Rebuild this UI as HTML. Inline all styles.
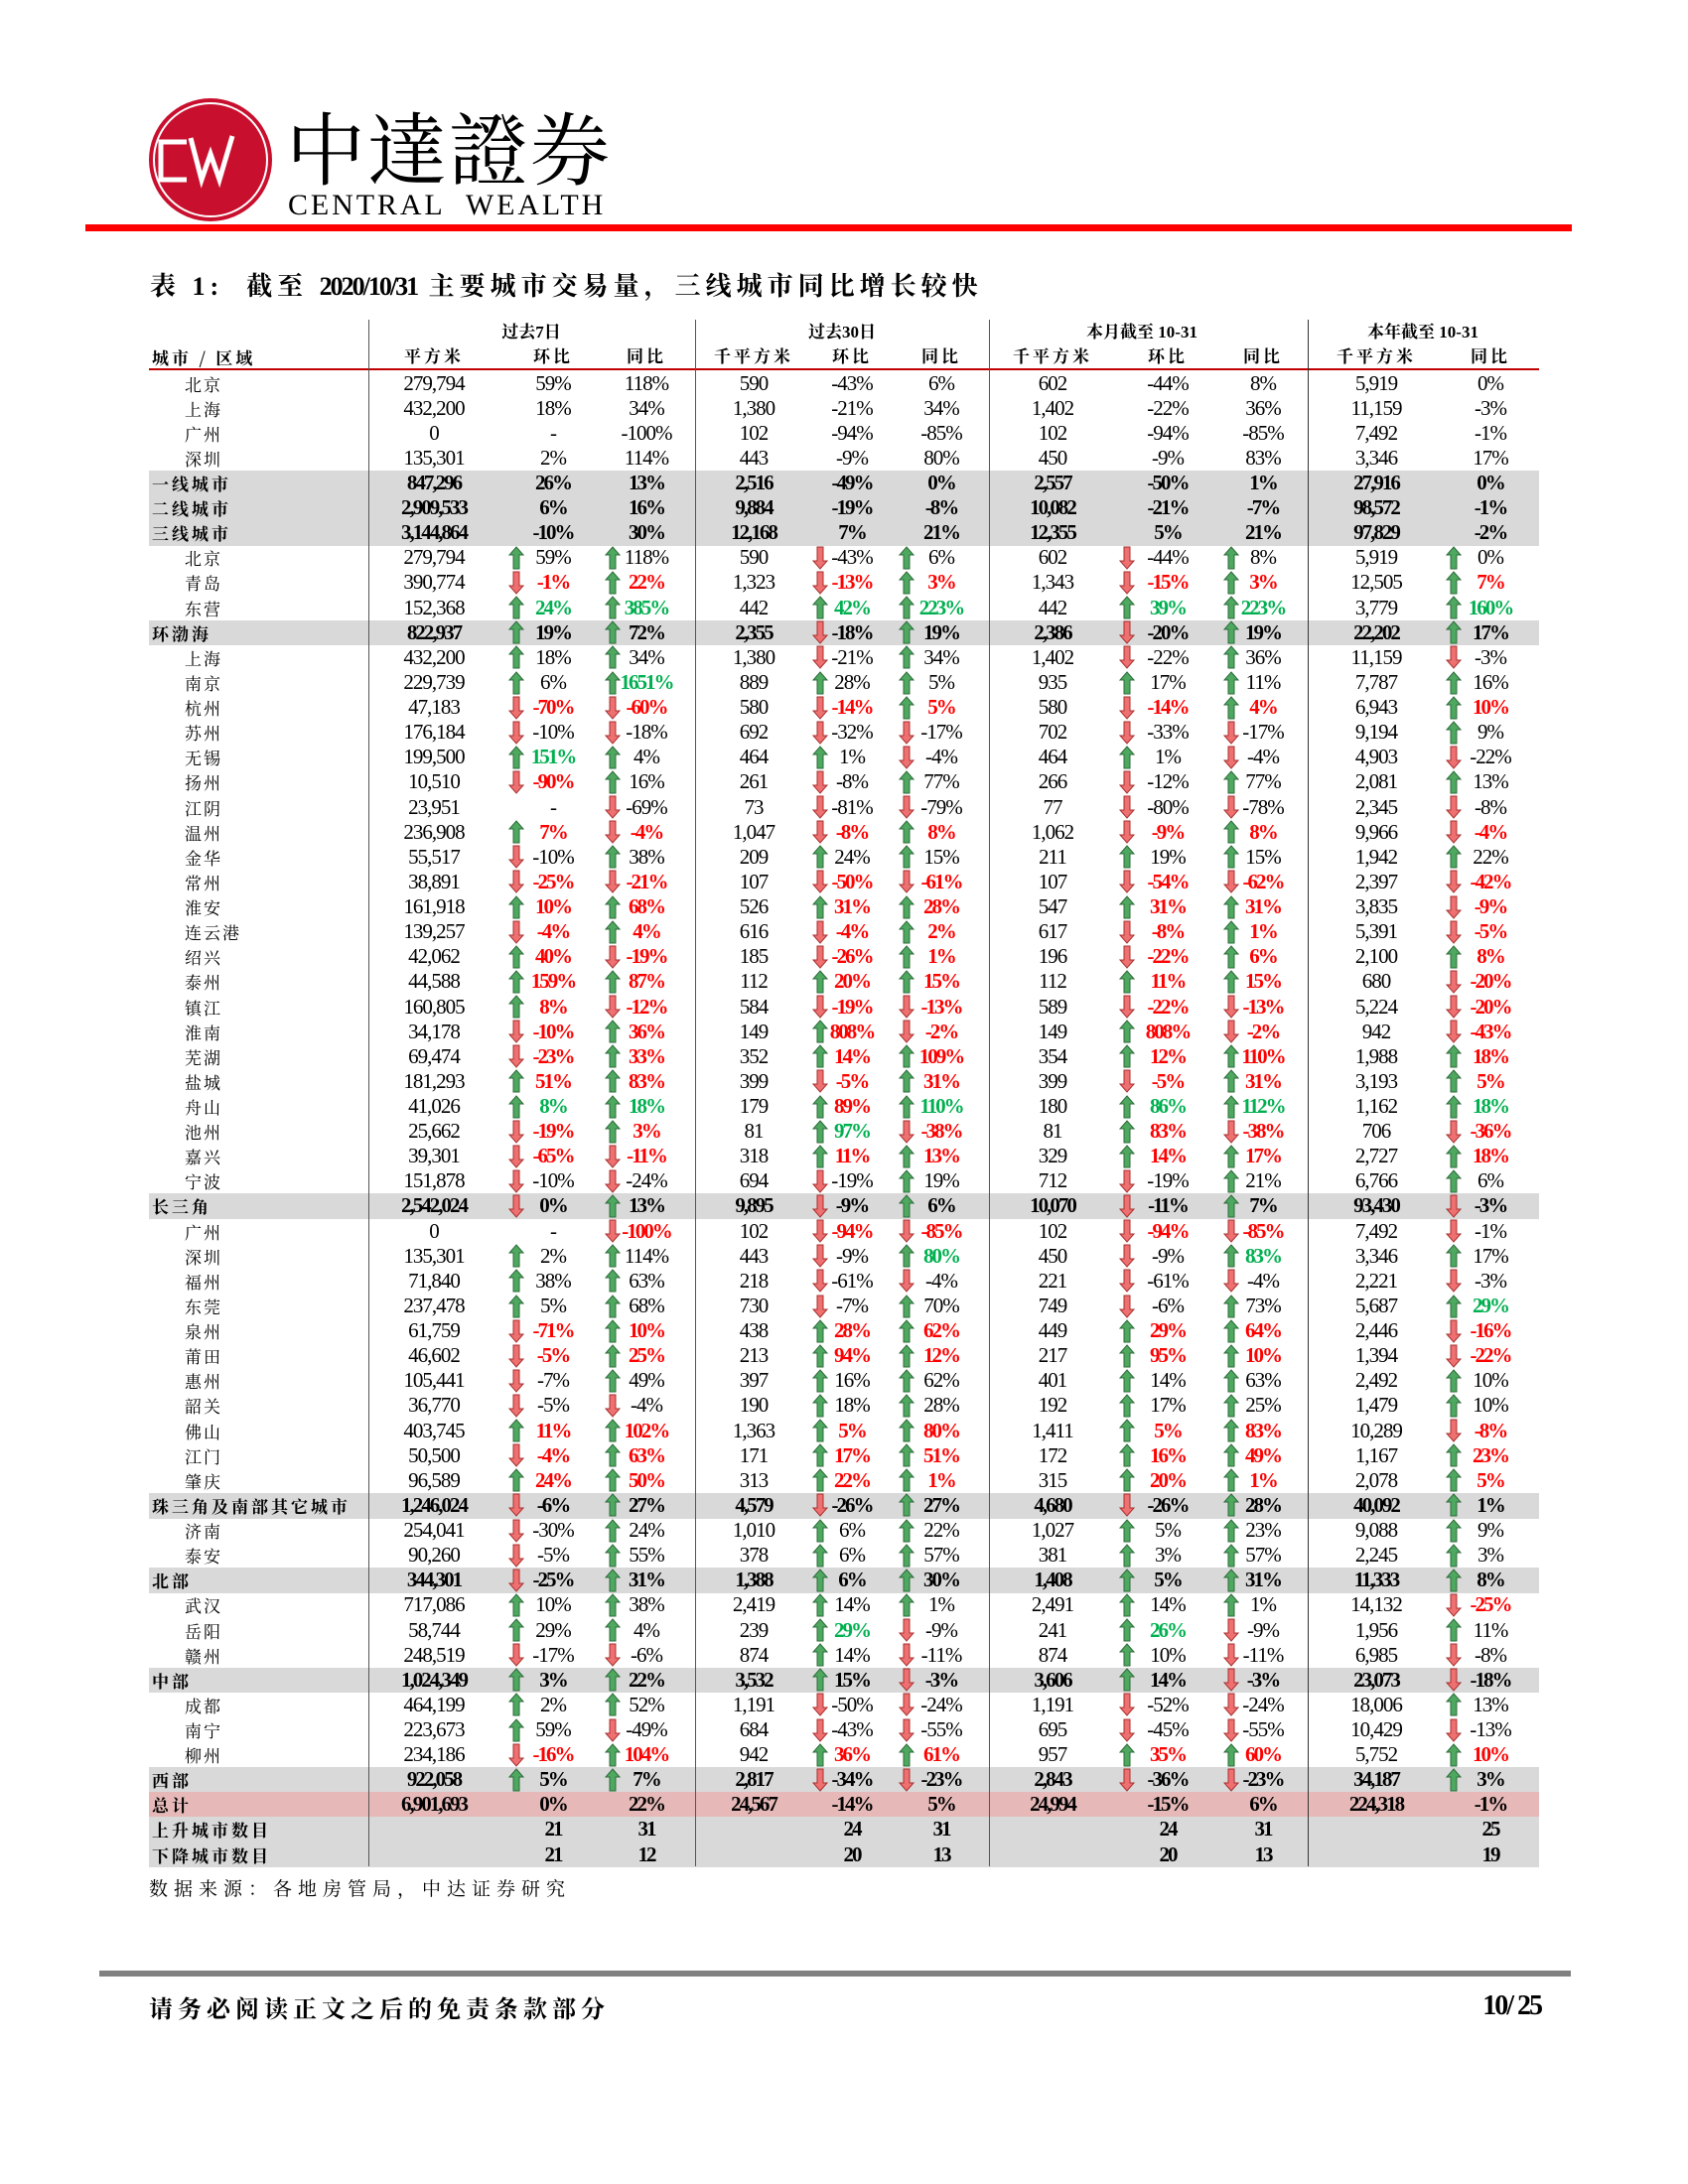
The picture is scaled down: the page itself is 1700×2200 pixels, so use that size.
<!DOCTYPE html>
<html><head><meta charset="utf-8">
<style>
html,body{margin:0;padding:0;background:#fff;}
#page{position:relative;width:1700px;height:2200px;overflow:hidden;background:#fff;font-family:"Liberation Serif","Noto Serif CJK SC",serif;color:#000;}
.abs{position:absolute;white-space:nowrap;}
.num{font-family:"Liberation Serif","Noto Serif CJK SC",serif;font-size:21px;letter-spacing:-1px;line-height:25px;transform:translateX(-50%);}
.b{font-weight:bold;letter-spacing:-2px;}
.lbl{font-family:"Noto Serif CJK SC","Liberation Serif",serif;font-size:17px;line-height:25px;letter-spacing:1px;}
.hd{font-family:"Liberation Serif","Noto Serif CJK SC",serif;font-weight:bold;font-size:17px;line-height:24px;transform:translateX(-50%);}
</style></head>
<body>
<div id="page">
  <svg class="abs" style="left:148px;top:97px" width="130" height="130">
    <circle cx="64" cy="64" r="62" fill="#c8102e"/>
    <circle cx="64" cy="64" r="57" fill="none" stroke="#fff" stroke-width="2"/>
    <path d="M40 46 H14 V84 H40" fill="none" stroke="#fff" stroke-width="5"/>
    <path d="M44 42 L55 84 L64 58 L73 84 L86 40" fill="none" stroke="#fff" stroke-width="5"/>
  </svg>
  <div class="abs" style="left:288px;top:96px;font-family:'Noto Serif CJK SC',serif;font-size:80px;line-height:100px;letter-spacing:2px">中達證券</div>
  <div class="abs" style="left:290px;top:190px;font-family:'Liberation Serif',serif;font-size:30px;line-height:34px;letter-spacing:2.9px">CENTRAL&nbsp; WEALTH</div>
  <div class="abs" style="left:86px;top:226px;width:1497px;height:7px;background:#f00"></div>

  <div class="abs" style="left:151px;top:272px;font-family:'Liberation Serif','Noto Serif CJK SC',serif;font-weight:bold;font-size:26px;line-height:34px;letter-spacing:5px">表 1:&nbsp; 截至 <span style="letter-spacing:-2px">2020/10/31</span> 主要城市交易量，三线城市同比增长较快</div>

  <div id="tbl"></div>

  <div class="abs" style="left:150px;top:1888px;font-family:'Noto Serif CJK SC',serif;font-size:19px;line-height:28px;letter-spacing:6px">数据来源：各地房管局，中达证券研究</div>
  <div class="abs" style="left:100px;top:1985px;width:1482px;height:6px;background:#808080"></div>
  <div class="abs" style="left:150px;top:2006px;font-family:'Noto Serif CJK SC',serif;font-weight:bold;font-size:24px;line-height:32px;letter-spacing:5px">请务必阅读正文之后的免责条款部分</div>
  <div class="abs" style="left:1460px;top:2004px;width:92px;text-align:right;font-family:'Liberation Serif',serif;font-weight:bold;font-size:28px;line-height:34px;letter-spacing:-2px">10/ 25</div>
</div>
<script>
// Table data: [label, rowType, 7d-volume, 7d-mom, 7d-yoy, 30d-volume, 30d-mom, 30d-yoy, mtd-volume, mtd-mom, mtd-yoy, ytd-volume, ytd-yoy]
// prefix r = red bold, g = green bold, D = forced down arrow
const tableRows = [
 ["北京","p","279,794","59%","118%","590","-43%","6%","602","-44%","8%","5,919","0%"],
 ["上海","p","432,200","18%","34%","1,380","-21%","34%","1,402","-22%","36%","11,159","-3%"],
 ["广州","p","0","-","-100%","102","-94%","-85%","102","-94%","-85%","7,492","-1%"],
 ["深圳","p","135,301","2%","114%","443","-9%","80%","450","-9%","83%","3,346","17%"],
 ["一线城市","ps","847,296","26%","13%","2,516","-49%","0%","2,557","-50%","1%","27,916","0%"],
 ["二线城市","ps","2,909,533","6%","16%","9,884","-19%","-8%","10,082","-21%","-7%","98,572","-1%"],
 ["三线城市","ps","3,144,864","-10%","30%","12,168","7%","21%","12,355","5%","21%","97,829","-2%"],
 ["北京","c","279,794","59%","118%","590","-43%","6%","602","-44%","8%","5,919","0%"],
 ["青岛","c","390,774","r-1%","r22%","1,323","r-13%","r3%","1,343","r-15%","r3%","12,505","r7%"],
 ["东营","c","152,368","g24%","g385%","442","g42%","g223%","442","g39%","g223%","3,779","g160%"],
 ["环渤海","s","822,937","19%","72%","2,355","-18%","19%","2,386","-20%","19%","22,202","17%"],
 ["上海","c","432,200","18%","34%","1,380","-21%","34%","1,402","-22%","36%","11,159","-3%"],
 ["南京","c","229,739","6%","g1651%","889","28%","5%","935","17%","11%","7,787","16%"],
 ["杭州","c","47,183","r-70%","r-60%","580","r-14%","r5%","580","r-14%","r4%","6,943","r10%"],
 ["苏州","c","176,184","-10%","-18%","692","-32%","-17%","702","-33%","-17%","9,194","9%"],
 ["无锡","c","199,500","g151%","4%","464","1%","-4%","464","1%","-4%","4,903","-22%"],
 ["扬州","c","10,510","r-90%","16%","261","-8%","77%","266","-12%","77%","2,081","13%"],
 ["江阴","c","23,951","-","-69%","73","-81%","-79%","77","-80%","-78%","2,345","-8%"],
 ["温州","c","236,908","r7%","r-4%","1,047","r-8%","r8%","1,062","r-9%","r8%","9,966","r-4%"],
 ["金华","c","55,517","-10%","38%","209","24%","15%","211","19%","15%","1,942","22%"],
 ["常州","c","38,891","r-25%","r-21%","107","r-50%","r-61%","107","r-54%","r-62%","2,397","r-42%"],
 ["淮安","c","161,918","r10%","r68%","526","r31%","r28%","547","r31%","r31%","3,835","r-9%"],
 ["连云港","c","139,257","r-4%","r4%","616","r-4%","r2%","617","r-8%","r1%","5,391","r-5%"],
 ["绍兴","c","42,062","r40%","r-19%","185","r-26%","r1%","196","r-22%","r6%","2,100","r8%"],
 ["泰州","c","44,588","r159%","r87%","112","r20%","r15%","112","r11%","r15%","680","r-20%"],
 ["镇江","c","160,805","r8%","r-12%","584","r-19%","r-13%","589","r-22%","r-13%","5,224","r-20%"],
 ["淮南","c","34,178","r-10%","r36%","149","r808%","r-2%","149","r808%","r-2%","942","r-43%"],
 ["芜湖","c","69,474","r-23%","r33%","352","r14%","r109%","354","r12%","r110%","1,988","r18%"],
 ["盐城","c","181,293","r51%","r83%","399","r-5%","r31%","399","r-5%","r31%","3,193","r5%"],
 ["舟山","c","41,026","g8%","g18%","179","r89%","g110%","180","g86%","g112%","1,162","g18%"],
 ["池州","c","25,662","r-19%","r3%","81","g97%","r-38%","81","r83%","r-38%","706","r-36%"],
 ["嘉兴","c","39,301","r-65%","r-11%","318","r11%","r13%","329","r14%","r17%","2,727","r18%"],
 ["宁波","c","151,878","-10%","-24%","694","-19%","19%","712","-19%","21%","6,766","6%"],
 ["长三角","s","2,542,024","D0%","13%","9,895","-9%","6%","10,070","-11%","7%","93,430","-3%"],
 ["广州","c","0","-","r-100%","102","r-94%","r-85%","102","r-94%","r-85%","7,492","-1%"],
 ["深圳","c","135,301","2%","114%","443","-9%","g80%","450","-9%","g83%","3,346","17%"],
 ["福州","c","71,840","38%","63%","218","-61%","-4%","221","-61%","-4%","2,221","-3%"],
 ["东莞","c","237,478","5%","68%","730","-7%","70%","749","-6%","73%","5,687","g29%"],
 ["泉州","c","61,759","r-71%","r10%","438","r28%","r62%","449","r29%","r64%","2,446","r-16%"],
 ["莆田","c","46,602","r-5%","r25%","213","r94%","r12%","217","r95%","r10%","1,394","r-22%"],
 ["惠州","c","105,441","-7%","49%","397","16%","62%","401","14%","63%","2,492","10%"],
 ["韶关","c","36,770","-5%","-4%","190","18%","28%","192","17%","25%","1,479","10%"],
 ["佛山","c","403,745","r11%","r102%","1,363","r5%","r80%","1,411","r5%","r83%","10,289","r-8%"],
 ["江门","c","50,500","r-4%","r63%","171","r17%","r51%","172","r16%","r49%","1,167","r23%"],
 ["肇庆","c","96,589","r24%","r50%","313","r22%","r1%","315","r20%","r1%","2,078","r5%"],
 ["珠三角及南部其它城市","s","1,246,024","-6%","27%","4,579","-26%","27%","4,680","-26%","28%","40,092","1%"],
 ["济南","c","254,041","-30%","24%","1,010","6%","22%","1,027","5%","23%","9,088","9%"],
 ["泰安","c","90,260","-5%","55%","378","6%","57%","381","3%","57%","2,245","3%"],
 ["北部","s","344,301","-25%","31%","1,388","6%","30%","1,408","5%","31%","11,333","8%"],
 ["武汉","c","717,086","10%","38%","2,419","14%","1%","2,491","14%","1%","14,132","r-25%"],
 ["岳阳","c","58,744","29%","4%","239","g29%","-9%","241","g26%","-9%","1,956","11%"],
 ["赣州","c","248,519","-17%","-6%","874","14%","-11%","874","10%","-11%","6,985","-8%"],
 ["中部","s","1,024,349","3%","22%","3,532","15%","-3%","3,606","14%","-3%","23,073","-18%"],
 ["成都","c","464,199","2%","52%","1,191","-50%","-24%","1,191","-52%","-24%","18,006","13%"],
 ["南宁","c","223,673","59%","-49%","684","-43%","-55%","695","-45%","-55%","10,429","-13%"],
 ["柳州","c","234,186","r-16%","r104%","942","r36%","r61%","957","r35%","r60%","5,752","r10%"],
 ["西部","s","922,058","5%","7%","2,817","-34%","-23%","2,843","-36%","-23%","34,187","3%"],
 ["总计","t","6,901,693","0%","22%","24,567","-14%","5%","24,994","-15%","6%","224,318","-1%"],
 ["上升城市数目","n","","21","31","","24","31","","24","31","","25"],
 ["下降城市数目","n","","21","12","","20","13","","20","13","","19"]
];
const groupHeaders = ["过去7日","过去30日","本月截至 10-31","本年截至 10-31"];
const subHeaders = ["平方米","环比","同比","千平方米","环比","同比","千平方米","环比","同比","千平方米","同比"];

// layout (not data)
const ROW0 = 373.5, PITCH = 25.12, LEFT = 150, RIGHT = 1550;
const textX = [437, 557, 651, 759, 858, 948, 1060, 1176, 1272, 1386, 1501];
const arrowX = [null, 520, 617, null, 826, 913, null, 1135, 1240, null, 1464];
const groupX = [535, 848, 1150, 1433];
const sepX = [371, 700, 996, 1317];

const tbl = document.getElementById('tbl');
function mk(cls, left, top, txt) {
  const d = document.createElement('div');
  d.className = 'abs ' + cls;
  d.style.left = left + 'px';
  d.style.top = top + 'px';
  if (txt !== undefined) d.textContent = txt;
  tbl.appendChild(d);
  return d;
}
const SVGNS = 'http://www.w3.org/2000/svg';
function arrow(x, yc, up) {
  const s = document.createElementNS(SVGNS, 'svg');
  s.setAttribute('width', '16');
  s.setAttribute('height', '24');
  s.setAttribute('class', 'abs');
  s.style.left = (x - 8) + 'px';
  s.style.top = (yc - 12) + 'px';
  const p = document.createElementNS(SVGNS, 'polygon');
  p.setAttribute('points', up ? '8,1 15,9 11,9 11,23 5,23 5,9 1,9' : '5,1 11,1 11,15 15,15 8,23 1,15 5,15');
  p.setAttribute('fill', up ? '#4ea860' : '#ee7070');
  p.setAttribute('stroke', up ? '#2e6b3a' : '#a83030');
  p.setAttribute('stroke-width', '1');
  s.appendChild(p);
  
  
  tbl.appendChild(s);
}

groupHeaders.forEach((g, i) => {
  const d = mk('hd', groupX[i], 323, g);
  
  
});
const h0 = mk('lbl', LEFT + 3, 347, '城市 / 区域');
h0.style.fontWeight = 'bold';
h0.style.letterSpacing = '3px';


subHeaders.forEach((h, i) => {
  const d = mk('hd', textX[i], 348, h);
  d.style.letterSpacing = '3px';
  
  
});

tableRows.forEach((r, ri) => {
  const top = ROW0 + ri * PITCH;
  const type = r[1];
  if (type === 'ps' || type === 's' || type === 'n' || type === 't') {
    const bg = mk('', LEFT, top, undefined);
    bg.style.width = (RIGHT - LEFT) + 'px';
    bg.style.height = (PITCH + 0.6) + 'px';
    bg.style.background = type === 't' ? '#e6b9b8' : '#d9d9d9';
    
    
  }
  const bold = type !== 'p' && type !== 'c';
  const lab = mk('lbl', type === 'p' || type === 'c' ? 186 : LEFT + 3, top, r[0]);
  if (bold) { lab.style.fontWeight = 'bold'; lab.style.letterSpacing = '3px'; }
  else { lab.style.letterSpacing = '2px'; }
  
  
  const hasArrows = type === 'c' || type === 's';
  for (let k = 0; k < 11; k++) {
    let v = r[k + 2];
    if (!v) continue;
    let color = null, forceDown = false;
    if (v[0] === 'r') { color = '#ff0000'; v = v.slice(1); }
    else if (v[0] === 'g') { color = '#00b050'; v = v.slice(1); }
    if (v[0] === 'D') { forceDown = true; v = v.slice(1); }
    const d = mk('num' + (bold || color ? ' b' : ''), textX[k], top, v);
    if (color) d.style.color = color;
    
    
    if (hasArrows && arrowX[k] !== null && v !== '-') {
      const down = forceDown || v[0] === '-';
      arrow(arrowX[k], top + PITCH / 2, !down);
    }
  }
});

const red = mk('', LEFT, 371, undefined);
red.style.width = (RIGHT - LEFT) + 'px';
red.style.height = '2px';
red.style.background = '#c00000';


sepX.forEach((x, i) => {
  const s = mk('', x, 322, undefined);
  s.style.width = '1px';
  s.style.height = (1880 - 322) + 'px';
  s.style.background = i === 3 ? '#333' : '#555';
  
  
});
</script>
</body></html>
